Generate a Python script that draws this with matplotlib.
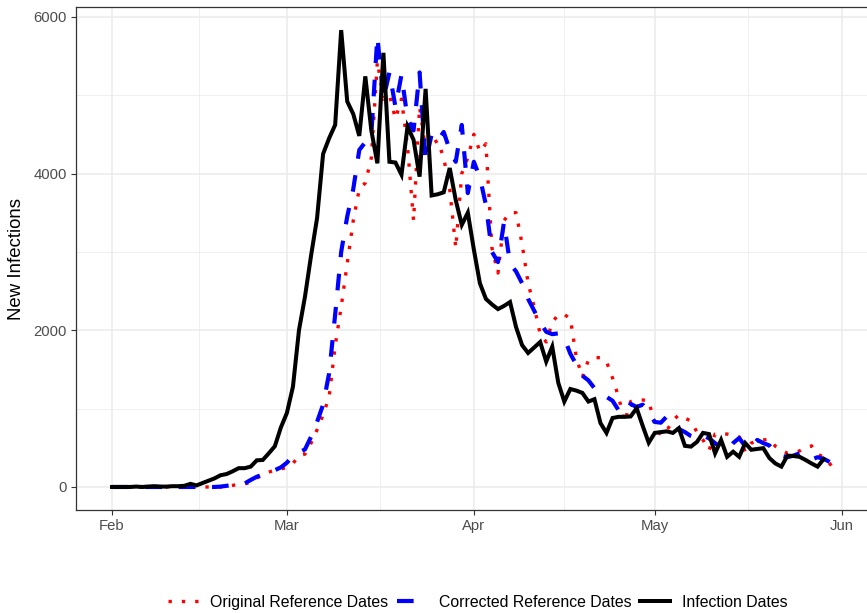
"""New infections by date: original vs corrected reference dates vs infection dates."""
import numpy as np
import pandas as pd
import matplotlib
matplotlib.use("Agg")
import matplotlib.pyplot as plt
import matplotlib.dates as mdates

START = "2020-02-01"

# daily counts
infection = [0, 0, 0, 0, 5, 0, 5, 10, 5, 5, 10, 10, 15, 40, 20, 50, 80, 110, 150, 165,
             200, 240, 240, 260, 340, 345, 430, 520, 760, 945, 1280, 2000, 2430, 2950, 3430,
             4250, 4450, 4620, 5830, 4920, 4760, 4480, 5240, 4550, 4130, 5540, 4150, 4140,
             3985, 4600, 4430, 3960, 5080, 3720, 3735, 3760, 4070, 3660, 3345, 3500, 3030,
             2600, 2400, 2330, 2270, 2310, 2360, 2040, 1810, 1710, 1780, 1850, 1600, 1790,
             1330, 1090, 1250, 1230, 1200, 1090, 1120, 815, 690, 880, 895, 895, 900, 1005,
             780, 565, 690, 700, 710, 690, 750, 525, 515, 575, 690, 675, 430, 600, 385, 450,
             385, 560, 475, 485, 495, 370, 300, 260, 400, 395, 385, 345, 300, 260, 355]
corrected = [0] * 18 + [5, 15, 25, 35, 45, 90, 130, 160, 185, 215, 250, 310, 400, 440, 480,
             640, 830, 1050, 1450, 2200, 3000, 3450, 3800, 4300, 4400, 4500, 5750, 4950, 5290,
             4850, 5260, 4700, 4550, 5290, 4150, 4500, 4420, 4530, 4300, 4150, 4620, 3750,
             4150, 3950, 3600, 3000, 2870, 3380, 2850, 2750, 2600, 2400, 2250, 2100, 1980,
             1950, 1960, 1900, 1700, 1560, 1420, 1360, 1260, 1200, 1150, 1100, 980, 940, 1060,
             1020, 1050, 950, 830, 820, 900, 860, 740, 700, 650, 620, 660, 620, 560, 500, 470,
             560, 625, 520, 500, 600, 560, 530, 440, 400, 380, 400, 430, 380, 350, 380, 360, 320]
original = [0] * 19 + [5, 20, 35, 40, 60, 115, 150, 190, 215, 230, 250, 300, 400, 420, 560,
            730, 920, 1150, 1800, 2300, 2850, 3400, 3800, 3880, 4200, 5430, 4950, 5000, 4700,
            4950, 4350, 3400, 4850, 4300, 4380, 4420, 4200, 3800, 3050, 4000, 4200, 4500,
            4280, 4380, 3050, 2730, 3400, 3500, 3500, 3100, 2600, 2300, 1950, 1850, 2100,
            2200, 2200, 2150, 1650, 1400, 1620, 1650, 1650, 1600, 1390, 1150, 830, 1090,
            1110, 1110, 1100, 800, 660, 720, 850, 920, 880, 840, 700, 600, 470, 675, 680, 675,
            660, 640, 450, 560, 590, 600, 610, 520, 470, 430, 440, 460, 500, 525, 420, 380,
            300, 200]

labels = ["Original Reference Dates", "Corrected Reference Dates", "Infection Dates"]
month_ticks = ["2020-02-01", "2020-03-01", "2020-04-01", "2020-05-01", "2020-06-01"]
month_labels = ["Feb", "Mar", "Apr", "May", "Jun"]
y_ticks = [0, 2000, 4000, 6000]

plt.rcParams["font.family"] = ["Liberation Sans", "DejaVu Sans"]

fig = plt.figure(figsize=(8.67, 6.13), dpi=100)
# panel runs a little past the right edge (right border is cropped in the reference)
ax = fig.add_axes([0.0877, 0.168, 0.9158, 0.8206])


def dates(vals):
    return pd.date_range(START, periods=len(vals), freq="D")


ax.plot(dates(original), original, color="#FF0000", lw=2.4, ls=(0, (1, 3)),
        dash_capstyle="butt", label=labels[0], zorder=3)
ax.plot(dates(corrected), corrected, color="#0000FF", lw=3.0, ls=(0, (4, 4)),
        dash_capstyle="butt", label=labels[1], zorder=4)
ax.plot(dates(infection), infection, color="black", lw=2.9, solid_joinstyle="miter",
        label=labels[2], zorder=5)

x0 = mdates.date2num(pd.Timestamp(START))
ax.set_xlim(x0 - 5.97, x0 + 125.7)
ax.set_ylim(-294, 6125)

major = [mdates.date2num(pd.Timestamp(d)) for d in month_ticks]
ax.set_xticks(major)
ax.set_xticklabels(month_labels)
ax.set_xticks([(a + b) / 2 for a, b in zip(major[:-1], major[1:])], minor=True)
ax.set_yticks(y_ticks)
ax.set_yticklabels([str(v) for v in y_ticks])
ax.set_yticks([1000, 3000, 5000], minor=True)

ax.grid(which="major", color="#EBEBEB", lw=1.1, zorder=0)
ax.grid(which="minor", color="#EBEBEB", lw=0.55, zorder=0)
ax.set_axisbelow(True)
ax.tick_params(which="major", length=3.5, width=0.8, color="#333333",
               labelsize=10.7, labelcolor="#4D4D4D", pad=3)
ax.tick_params(which="minor", length=0)
for s in ax.spines.values():
    s.set_color("#333333"); s.set_linewidth(0.9)

ax.set_ylabel("New Infections", fontsize=13.4, labelpad=6)

fig.legend(loc="lower center", bbox_to_anchor=(0.551, -0.018), ncol=3, frameon=False,
           fontsize=11.4, handlelength=1.9, handletextpad=0.75, columnspacing=0.55)

fig.savefig("out.png", dpi=100)
